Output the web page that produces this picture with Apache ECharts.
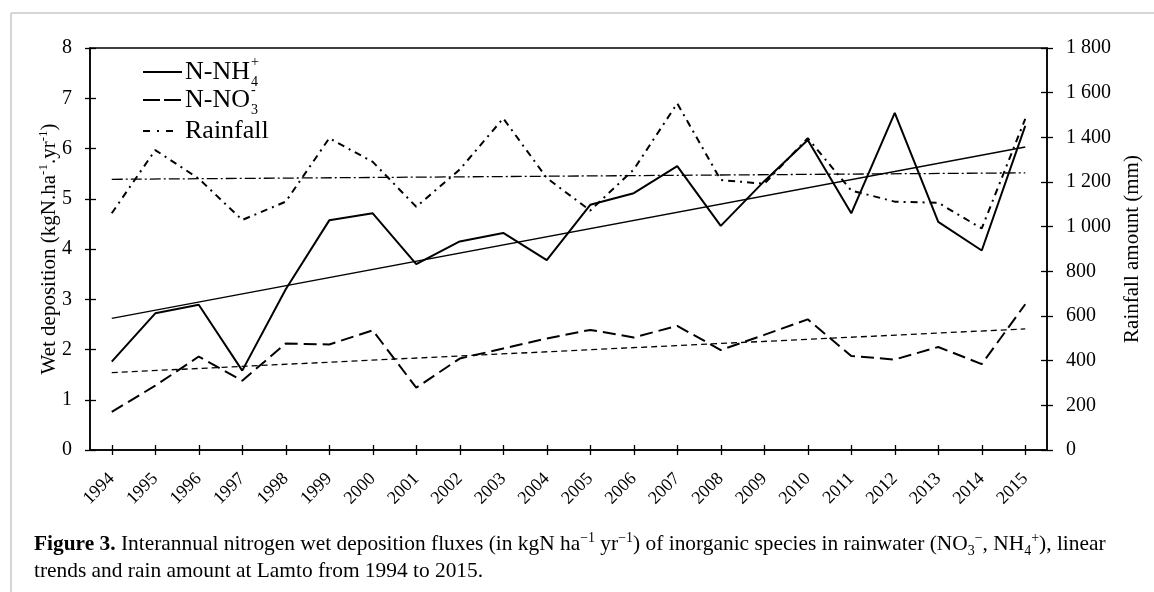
<!DOCTYPE html>
<html><head><meta charset="utf-8">
<script src="https://cdn.jsdelivr.net/npm/echarts@6/dist/echarts.min.js"></script>
<style>html,body{margin:0;padding:0;background:#fff;overflow:hidden}#c{width:1154px;height:592px}</style>
</head><body><div id="c"></div>
<script>
const years = ['1994','1995','1996','1997','1998','1999','2000','2001','2002','2003','2004','2005','2006','2007','2008','2009','2010','2011','2012','2013','2014','2015'];
const nh4 = [1.76,2.72,2.89,1.58,3.2,4.57,4.71,3.7,4.15,4.32,3.78,4.88,5.11,5.65,4.46,5.35,6.17,4.71,6.71,4.54,3.97,6.45];
const no3 = [0.76,1.28,1.86,1.38,2.12,2.1,2.38,1.24,1.82,2.02,2.22,2.39,2.24,2.47,1.99,2.29,2.6,1.87,1.8,2.05,1.71,2.9];
const rainfall = [1060,1343,1215,1030,1112,1396,1290,1089,1256,1485,1218,1072,1256,1552,1209,1192,1396,1162,1112,1107,992,1483];
const nh4Trend = [['1994',2.62],['2015',6.03]];
const no3Trend = [['1994',1.54],['2015',2.41]];
const rainTrend = [['1994',1212],['2015',1241]];
const leftTickLabels = ['0','1','2','3','4','5','6','7','8'];
const rightTickLabels = ['0','200','400','600','800','1 000','1 200','1 400','1 600','1 800'];
const legendLabels = ['N-NH','N-NO','Rainfall'];
const legendSup = ['+','-',''];
const legendSub = ['4','3',''];

const FF = '"Liberation Serif", "Times New Roman", serif';
const chart = echarts.init(document.getElementById('c'), null, {renderer:'canvas'});
const mctx = document.createElement('canvas').getContext('2d');
function tw(t, s){ mctx.font = s + 'px "Liberation Serif"'; return mctx.measureText(t).width; }

const black = '#000';
const axisCommon = {
  axisLine:{show:true, lineStyle:{color:black, width:1.5}},
  splitLine:{show:false}
};

// legend graphics
const legendY = [72, 100, 131];
const legendDash = [null, [17,4], [7,7,2,7]];
const legendX2 = [182, 182, 176];
const graphics = [
  {type:'line', shape:{x1:11, y1:13, x2:1154, y2:13}, style:{stroke:'#c8c8c8', lineWidth:1.5}, silent:true},
  {type:'line', shape:{x1:11, y1:13, x2:11, y2:592}, style:{stroke:'#c8c8c8', lineWidth:1.5}, silent:true}
];
legendLabels.forEach((lab, i) => {
  const y = legendY[i];
  graphics.push({type:'line', shape:{x1:143, y1:y, x2:legendX2[i], y2:y}, style:{stroke:black, lineWidth:2, lineDash:legendDash[i]}});
  const tx = 185;
  graphics.push({type:'text', x:tx, y:y, style:{text:lab, fontSize:26, fontFamily:FF, fill:black, verticalAlign:'middle', align:'left'}});
  const w = tw(lab, 26);
  if (legendSup[i]) graphics.push({type:'text', x:tx + w + 1, y:y - 10, style:{text:legendSup[i], fontSize:14, fontFamily:FF, fill:black, verticalAlign:'middle'}});
  if (legendSub[i]) graphics.push({type:'text', x:tx + w + 1, y:y + 10, style:{text:legendSub[i], fontSize:14, fontFamily:FF, fill:black, verticalAlign:'middle'}});
});
// caption
graphics.push({type:'text', x:34, y:531, style:{
  text:'{b|Figure 3.} Interannual nitrogen wet deposition fluxes (in kgN ha{sup|−1} yr{sup|−1}) of inorganic species in rainwater (NO{sub|3}{sup|−}, NH{sub|4}{sup|+}), linear\ntrends and rain amount at Lamto from 1994 to 2015.',
  fontSize:21.4, fontFamily:FF, fill:black, lineHeight:27, verticalAlign:'top', align:'left',
  rich:{
    b:{fontWeight:'bold', fontSize:21.4, fontFamily:FF, lineHeight:27},
    sup:{fontSize:14, fontFamily:FF, lineHeight:15, verticalAlign:'top'},
    sub:{fontSize:14, fontFamily:FF, lineHeight:20, verticalAlign:'bottom'}
  }
}});

const option = {
  animation:false,
  backgroundColor:'#fff',
  grid:{left:90, right:107, top:48, bottom:142, show:true, borderColor:black, borderWidth:1.5},
  xAxis:[
    Object.assign({type:'category', data:years, boundaryGap:true, position:'bottom',
      axisTick:{show:true, alignWithLabel:true, length:5, lineStyle:{color:black, width:1.3}},
      axisLabel:{rotate:45, fontSize:18, fontFamily:FF, color:black, margin:26, interval:0}}, axisCommon),
    {type:'category', data:years, boundaryGap:true, position:'bottom', axisLine:{show:false},
      axisTick:{show:true, inside:true, alignWithLabel:true, length:5, lineStyle:{color:black, width:1.3}},
      axisLabel:{show:false}, splitLine:{show:false}}
  ],
  yAxis:[
    Object.assign({type:'value', min:0, max:8, interval:1, position:'left',
      name:'Wet deposition (kgN.ha{sup|-1}.yr{sup|-1})', nameLocation:'middle', nameRotate:90, nameGap:29, nameMoveOverlap:false,
      nameTextStyle:{fontSize:21, fontFamily:FF, color:black, lineHeight:24,
        rich:{sup:{fontSize:13, fontFamily:FF, lineHeight:14, verticalAlign:'top'}}},
      axisTick:{show:true, length:5, lineStyle:{color:black, width:1.3}},
      axisLabel:{fontSize:20, fontFamily:FF, color:black, margin:18, formatter:v => leftTickLabels[Math.round(v)]}}, axisCommon),
    Object.assign({type:'value', min:0, max:1800, interval:200, position:'right',
      name:'Rainfall amount (mm)', nameLocation:'middle', nameRotate:90, nameGap:75, nameMoveOverlap:false,
      nameTextStyle:{fontSize:21, fontFamily:FF, color:black, verticalAlign:'top'},
      axisTick:{show:true, length:6, lineStyle:{color:black, width:1.3}},
      axisLabel:{fontSize:20, fontFamily:FF, color:black, margin:19, align:'left', formatter:v => rightTickLabels[Math.round(v/200)]}}, axisCommon),
    {type:'value', min:0, max:8, interval:1, position:'left', axisLine:{show:false}, axisLabel:{show:false}, splitLine:{show:false},
      axisTick:{show:true, inside:true, length:6, lineStyle:{color:black, width:1.3}}},
    {type:'value', min:0, max:1800, interval:200, position:'right', axisLine:{show:false}, axisLabel:{show:false}, splitLine:{show:false},
      axisTick:{show:true, inside:true, length:6, lineStyle:{color:black, width:1.3}}}
  ],
  series:[
    {name:'N-NH4+', type:'line', data:nh4, showSymbol:false, lineStyle:{color:black, width:2, type:'solid'}, z:5},
    {name:'N-NO3-', type:'line', data:no3, showSymbol:false, lineStyle:{color:black, width:2, type:[13,6]}, z:5},
    {name:'Rainfall', type:'line', yAxisIndex:1, data:rainfall, showSymbol:false, lineStyle:{color:black, width:2, type:[7,5,2,5]}, z:5},
    {name:'NH4 trend', type:'line', data:nh4Trend, showSymbol:false, lineStyle:{color:black, width:1.3, type:'solid'}, z:4},
    {name:'NO3 trend', type:'line', data:no3Trend, showSymbol:false, lineStyle:{color:black, width:1.3, type:[6,4]}, z:4},
    {name:'Rain trend', type:'line', yAxisIndex:1, data:rainTrend, showSymbol:false, lineStyle:{color:black, width:1.3, type:[11,3,2,3]}, z:4}
  ],
  graphic:graphics
};
chart.setOption(option);
</script></body></html>
